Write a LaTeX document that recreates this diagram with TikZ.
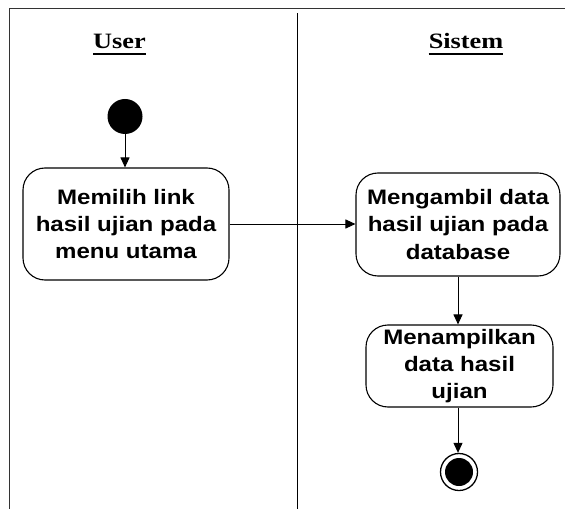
\documentclass[tikz,border=0pt]{standalone}
\usepackage{fontspec}
\usetikzlibrary{arrows.meta}
\newfontfamily\headfont[FakeStretch=1.2]{Liberation Serif}
\newfontfamily\actfont[FakeStretch=1.15]{Liberation Sans}
\tikzset{
  actbox/.style={draw, line width=1.1bp, rounded corners=22bp, align=center,
    inner sep=0pt, font=\actfont\bfseries\fontsize{21}{27.5}\selectfont},
  flow/.style={line width=1bp, -{Triangle[length=10bp,width=9bp]}},
  lane/.style={line width=1.5bp},
  head/.style={inner sep=0pt, anchor=base, font=\headfont\bfseries\fontsize{22}{25}\selectfont}
}
\begin{document}
\begin{tikzpicture}[x=1bp,y=-1bp]
  \useasboundingbox (0,0) rectangle (565,509);
  % swimlane frame and divider
  \draw[lane, black!80] (9.5,509) -- (9.5,8.5) -- (566,8.5);
  \draw[lane] (297.5,13.5) -- (297.5,509);
  % lane headers
  \node[head] (hu) at (119.5,49) {User};
  \node[head] (hs) at (466,49) {Sistem};
  \draw[line width=2bp] ([yshift=-5bp]hu.base west) -- ([yshift=-5bp]hu.base east);
  \draw[line width=2bp] ([yshift=-5bp]hs.base west) -- ([yshift=-5bp]hs.base east);
  % start node
  \node[circle, fill=black, minimum size=35bp, inner sep=0pt] (start) at (125,116.5) {};
  % actions
  \node[actbox, minimum width=206bp, minimum height=112bp] (b1) at (126,224)
    {Memilih link\\hasil ujian pada\\menu utama};
  \node[actbox, minimum width=204bp, minimum height=103bp] (b2) at (458,224.5)
    {Mengambil data\\hasil ujian pada\\database};
  \node[actbox, minimum width=187bp, minimum height=82bp] (b3) at (459.5,366)
    {Menampilkan\\data hasil\\ujian};
  % end node
  \node[circle, draw, line width=1.3bp, minimum size=37bp, inner sep=0pt] (end) at (459,472) {};
  \node[circle, fill=black, minimum size=28bp, inner sep=0pt] (endin) at (end.center) {};
  % control flow
  \draw[flow] (start.south) -- (start.south |- b1.north);
  \draw[flow] (b1.east) -- (b2.west |- b1.east);
  \draw[flow] (b2.south -| 458,0) -- (458,0 |- b3.north);
  \draw[flow] (b3.south -| 458,0) -- (458,0 |- end.north);
\end{tikzpicture}
\end{document}
